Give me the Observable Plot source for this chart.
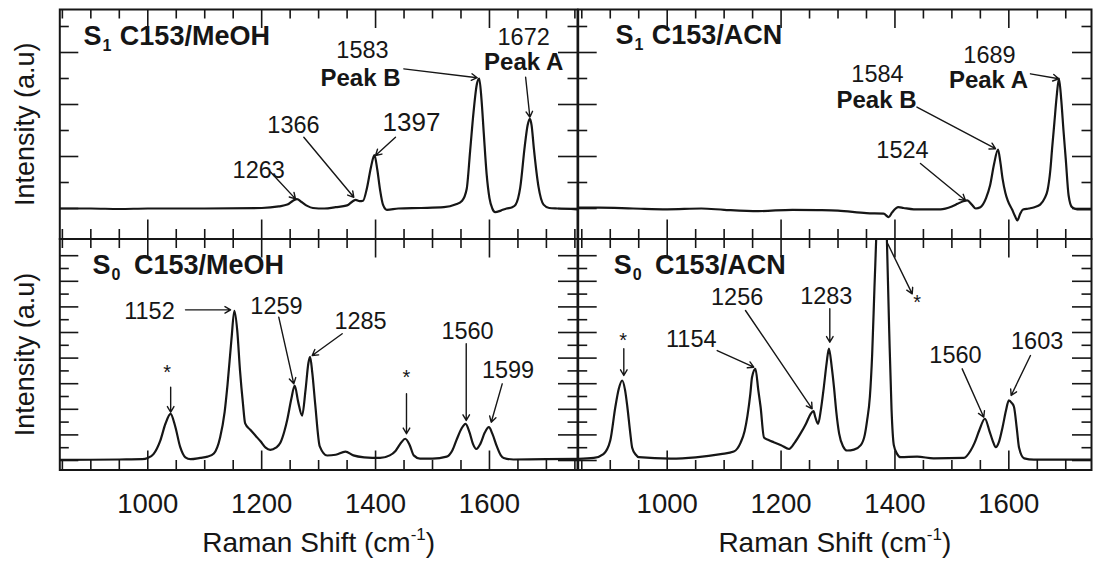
<!DOCTYPE html>
<html><head><meta charset="utf-8">
<script src="https://cdn.jsdelivr.net/npm/d3@7"></script>
<script src="https://cdn.jsdelivr.net/npm/@observablehq/plot@0.6"></script>
<style>
html,body{margin:0;padding:0;background:#fff;}
#chart{position:relative;width:1094px;height:561px;overflow:hidden;background:#fff;}
#chart svg{position:absolute;left:0;top:0;}
</style></head><body><div id="chart"></div>
<script>
const FONT = "'Liberation Sans', Arial, Helvetica, sans-serif";
const INK = "#161616";

// ---- spectra: [Raman shift (cm-1), intensity (a.u.)] ----
const s1MeOH = [[845,0],[900,0],[950,-0.02],[1000,0],[1100,0],[1200,0.02],[1230,0.08],[1245,0.15],[1255,0.3],[1262,0.36],[1270,0.25],[1280,0.1],[1290,0.02],[1310,0],[1330,0.05],[1350,0.12],[1360,0.28],[1365,0.33],[1372,0.28],[1378,0.3],[1385,0.8],[1392,1.6],[1398,2.05],[1403,1.5],[1408,0.7],[1413,0.15],[1420,-0.05],[1440,0],[1480,0.02],[1520,0.05],[1540,0.15],[1552,0.3],[1560,0.75],[1566,2.2],[1572,3.7],[1578,4.8],[1582,5.0],[1586,4.2],[1590,2.9],[1595,1.33],[1600,0.4],[1605,0],[1610,-0.14],[1620,-0.08],[1630,0],[1640,0.05],[1646,0.15],[1654,0.8],[1662,2.4],[1667,3.2],[1671,3.45],[1674,3.2],[1678,2.3],[1686,0.85],[1695,0.15],[1705,0.02],[1720,0],[1754,-0.03]];
const s1ACN = [[844,0.03],[880,0.03],[940,0],[1000,-0.03],[1060,0],[1100,-0.05],[1160,-0.1],[1220,-0.05],[1264,-0.06],[1300,-0.08],[1350,-0.18],[1380,-0.2],[1389,-0.33],[1395,-0.15],[1406,0.05],[1415,0.02],[1433,-0.03],[1480,-0.03],[1500,0.08],[1510,0.18],[1520,0.28],[1527,0.31],[1535,0.15],[1542,0],[1550,0.05],[1560,0.4],[1567,0.88],[1574,1.7],[1581,2.27],[1585,1.8],[1589,1.15],[1594,0.6],[1598,0.31],[1606,-0.05],[1611,-0.3],[1615,-0.46],[1620,-0.2],[1625,-0.04],[1635,0],[1645,0.05],[1655,0.15],[1663,0.4],[1668,0.7],[1673,1.5],[1676,2.3],[1680,3.3],[1684,4.3],[1688,5.0],[1692,4.2],[1696,3.0],[1700,1.9],[1705,0.5],[1711,0.05],[1720,-0.03],[1746,-0.03]];
const s0MeOH = [[846,0.05],[900,0.06],[950,0.08],[990,0.1],[1000,0.2],[1010,0.5],[1022,1.56],[1031,2.87],[1040,3.65],[1048,2.7],[1057,1.04],[1066,0.25],[1075,0.1],[1092,0.2],[1105,0.3],[1116,0.55],[1127,1.8],[1135,3.8],[1140,5.9],[1147,9.5],[1152,11.7],[1157,10.2],[1162,7.0],[1167,4.5],[1171,2.9],[1180,2.4],[1190,1.9],[1198,1.5],[1207,1.0],[1215,0.83],[1225,1.0],[1233,1.4],[1240,2.3],[1245,3.2],[1252,4.8],[1258,5.86],[1264,4.6],[1271,3.5],[1277,5.5],[1282,7.6],[1285,8.1],[1289,6.8],[1294,4.4],[1302,1.1],[1315,0.39],[1330,0.45],[1347,0.7],[1361,0.4],[1380,0.25],[1408,0.2],[1425,0.4],[1435,0.75],[1445,1.4],[1452,1.7],[1460,1.2],[1467,0.4],[1478,0.15],[1500,0.15],[1525,0.3],[1535,0.8],[1543,1.7],[1551,2.5],[1558,2.86],[1565,2.2],[1571,1.3],[1577,0.9],[1584,1.3],[1592,2.2],[1599,2.6],[1605,2.1],[1613,1.1],[1620,0.4],[1625,0.2],[1642,0.08],[1700,0.1],[1754,0.12]];
const s0ACN = [[844,0.13],[871,0.2],[888,0.5],[900,1.56],[909,4.2],[915,5.6],[921,6.25],[926,5.5],[930,4.2],[935,2.2],[938.5,1.0],[945,0.45],[950,0.26],[1006,0.15],[1050,0.25],[1094,0.5],[1117,0.7],[1129,1.4],[1136,2.3],[1141,3.5],[1146,5.2],[1149,6.5],[1155,7.16],[1160,5.5],[1164,4.2],[1170,1.8],[1178,1.6],[1187,1.43],[1200,1.2],[1214,0.9],[1224,1.4],[1234,2.1],[1244,2.9],[1252,3.65],[1257,3.85],[1260,3.4],[1265,2.86],[1270,4.0],[1275,5.7],[1280,7.6],[1284,8.75],[1289,7.3],[1293,5.7],[1297,3.8],[1302,2.1],[1309,1.1],[1316,0.78],[1328,0.85],[1340,1.2],[1347,2.0],[1351,3.1],[1356,5.0],[1360,8.3],[1364,13.5],[1368,18.5],[1372,25],[1377,30],[1382,25],[1386,17],[1390,10],[1394,4],[1398,1.2],[1404,0.5],[1410,0.26],[1439,0.3],[1468,0.17],[1521,0.2],[1533,0.78],[1540,1.4],[1548,2.34],[1558,3.26],[1566,2.3],[1572,1.5],[1577,1.04],[1583,1.5],[1589,2.6],[1595,3.9],[1600,4.7],[1605,4.5],[1609,4.2],[1614,2.5],[1618,1.0],[1627,0.17],[1644,0.07],[1746,0.07]];

// ---- ticks ----
const xTicks = [850,900,950,1000,1050,1100,1150,1200,1250,1300,1350,1400,1450,1500,1550,1600,1650,1700,1750];
const xTickLabels = [1000,1200,1400,1600];
const yTicksTop = [0,1,2,3,4,5,6,7];
const yTicksBottom = [0,1,2,3,4,5,6,7,8,9,10,11,12,13,14,15,16];

// ---- texts ----
const titles = {tl:["S","1"," C153/MeOH"], tr:["S","1"," C153/ACN"], bl:["S","0"," C153/MeOH"], br:["S","0"," C153/ACN"]};
const yTitle = "Intensity (a.u)";
const xTitle = "Raman Shift (cm-1)";

// ---- peak annotations: labels [text, x, y] and leader arrows [x1,y1,x2,y2] ----
const labelsTL = [["1263",1194.8,1.19],["1366",1255.9,2.92],["1397",1463.1,3.0],["1583",1377,5.77],["1672",1660,6.27]];
const boldTL = [["Peak B",1373.5,4.73],["Peak A",1660,5.31]];
const arrowsTL = [[1215.5,1.40,1259.4,0.37],[1274,2.74,1361.8,0.43],[1435,2.74,1399.9,2.04],[1449.6,5.37,1578.5,5.03],[1663.5,5.05,1671,3.51]];

const labelsTR = [["1524",1413.2,1.96],["1584",1369.3,4.85],["1689",1566,5.58]];
const boldTR = [["Peak B",1367.6,3.85],["Peak A",1564.3,4.62]];
const arrowsTR = [[1444.8,1.73,1523.9,0.31],[1438.6,3.90,1576.6,2.30],[1638,5.18,1687.7,4.99]];

const labelsBL = [["1152",1003,11.09],["1259",1226,11.48],["1285",1373.6,10.31],["1560",1561.5,9.53],["1599",1632.6,6.41]];
const starsBL = [[1034.1,6.4],[1454.3,6.0]];
const arrowsBL = [[1040.2,5.73,1040.2,3.77],[1066.2,11.77,1145.5,11.77],[1230,11.2,1256.4,5.99],[1341.4,9.9,1288.7,8.2],[1454.3,5.21,1454.3,2.09],[1559.2,9.12,1559.2,3.13],[1622.4,5.99,1603.1,2.99]];

const labelsBR = [["1154",1042.3,8.83],["1256",1122.9,12.11],["1283",1279.4,12.19],["1560",1506.3,7.58],["1603",1649.8,8.75]];
const starsBR = [[922.7,8.87],[1439.1,11.81]];
const arrowsBR = [[923.8,8.73,923.8,6.64],[1087.8,8.59,1152.1,7.29],[1137.5,11.72,1254.6,4.04],[1285.6,11.85,1285.6,9.24],[1387.4,16.93,1430.3,13.02],[1518.1,7.16,1556,3.38],[1638,8.2,1604.1,5.08]];

const W = 1094, H = 561, MAJ = 19, MIN = 9.5;

function panel(p) {
  const fw = p.right - p.left, fh = p.bottom - p.top;
  const [x0, x1] = p.xDomain, [y0, y1] = p.yDomain;
  const kx = (x1 - x0) / fw, ky = (y1 - y0) / fh; // data units per pixel
  const xt = xTicks.filter(d => d > x0 && d < x1);
  const len = d => (d % 200 === 0 ? MAJ : MIN);
  const leny = d => (d % 2 === 0 ? MAJ : MIN);
  const tk = {stroke: INK, strokeWidth: 1.6};
  const marks = [
    Plot.ruleX(xt, {x: d => d, y1: y1, y2: d => y1 - len(d) * ky, ...tk}),
    Plot.ruleX(xt, {x: d => d, y1: y0, y2: d => y0 + len(d) * ky, ...tk}),
    Plot.ruleY(p.yTicks, {y: d => d, x1: x0, x2: d => x0 + leny(d) * kx, ...tk}),
    Plot.ruleY(p.yTicks, {y: d => d, x1: x1, x2: d => x1 - leny(d) * kx, ...tk}),
    Plot.line(p.data, {x: d => d[0], y: d => d[1], curve: "monotone-x", stroke: INK, strokeWidth: 2.2, clip: true}),
    Plot.frame({stroke: INK, strokeWidth: 2}),
    Plot.arrow(p.arrows, {x1: d => d[0], y1: d => d[1], x2: d => d[2], y2: d => d[3], stroke: INK, strokeWidth: 1.4, headLength: 7}),
    Plot.text(p.labels, {x: d => d[1], y: d => d[2], text: d => d[0], fontSize: d => d[0] === "1397" ? 26 : 23.5, lineAnchor: "bottom", fill: INK}),
    Plot.text([p.title.join("")], {x: p.titlePos[0], y: p.titlePos[1], text: d => d, textAnchor: "start", lineAnchor: "bottom", fontWeight: "bold", fontSize: 27, fill: INK})
  ];
  if (p.bold) marks.push(Plot.text(p.bold, {x: d => d[1], y: d => d[2], text: d => d[0], fontSize: 24, fontWeight: "bold", lineAnchor: "bottom", fill: INK}));
  if (p.stars) marks.push(Plot.text(p.stars, {x: d => d[0], y: d => d[1], text: () => "*", fontSize: 20, lineAnchor: "bottom", fill: INK}));
  if (p.bottomRow) {
    marks.push(Plot.text(xTickLabels, {x: d => d, text: d => String(d), frameAnchor: "bottom", dy: 42.5, lineAnchor: "bottom", fontSize: 27.5, fill: INK}));
    marks.push(Plot.text([xTitle], {text: d => d, frameAnchor: "bottom", textAnchor: "middle", dy: 82, lineAnchor: "bottom", fontSize: 28, fill: INK}));
  }
  if (p.leftCol) {
    marks.push(Plot.text([yTitle], {text: d => d, frameAnchor: "left", textAnchor: "middle", lineAnchor: "middle", dx: -34, rotate: -90, fontSize: 27, fill: INK}));
  }
  const svg = Plot.plot({
    width: W, height: H,
    marginLeft: p.left, marginRight: W - p.right, marginTop: p.top, marginBottom: H - p.bottom,
    x: {domain: p.xDomain, axis: null},
    y: {domain: p.yDomain, axis: null},
    style: {background: "transparent", fontFamily: FONT, overflow: "visible"},
    marks
  });
  // subscripts / superscripts
  const NS = "http://www.w3.org/2000/svg";
  svg.querySelectorAll("text").forEach(t => {
    const s = t.textContent;
    if (s === p.title.join("")) {
      t.textContent = "";
      const a = document.createElementNS(NS, "tspan"); a.textContent = p.title[0];
      const b = document.createElementNS(NS, "tspan"); b.textContent = p.title[1];
      b.setAttribute("font-size", "16"); b.setAttribute("dy", "6"); b.setAttribute("dx", "1");
      const c = document.createElementNS(NS, "tspan"); c.textContent = p.title[2];
      c.setAttribute("dy", "-6"); c.setAttribute("dx", p.title[1] === "0" ? "6" : "1");
      t.append(a, b, c);
    } else if (s === xTitle) {
      t.textContent = "";
      const a = document.createElementNS(NS, "tspan"); a.textContent = "Raman Shift (cm";
      const b = document.createElementNS(NS, "tspan"); b.textContent = "-1";
      b.setAttribute("font-size", "17"); b.setAttribute("dy", "-12");
      const c = document.createElementNS(NS, "tspan"); c.textContent = ")"; c.setAttribute("dy", "12");
      t.append(a, b, c);
    }
  });
  return svg;
}

const topDom = [(208 - 238.5) / 26, (208 - 9) / 26];
const botDom = [(460 - 469.5) / 12.8, (460 - 238.5) / 12.8];
const leftX = [845.5, 1754.6], rightX = [843.7, 1745.2];

const panels = [
  {data: s1MeOH, xDomain: leftX, yDomain: topDom, yTicks: yTicksTop, left: 59.3, right: 577, top: 9, bottom: 238.5,
   title: titles.tl, titlePos: [887, 6.27], labels: labelsTL, bold: boldTL, arrows: arrowsTL, leftCol: true},
  {data: s1ACN, xDomain: rightX, yDomain: topDom, yTicks: yTicksTop, left: 577.7, right: 1091, top: 9, bottom: 238.5,
   title: titles.tr, titlePos: [909, 6.33], labels: labelsTR, bold: boldTR, arrows: arrowsTR},
  {data: s0MeOH, xDomain: leftX, yDomain: botDom, yTicks: yTicksBottom, left: 59.3, right: 577, top: 238.5, bottom: 469.5,
   title: titles.bl, titlePos: [903, 14.6], labels: labelsBL, stars: starsBL, arrows: arrowsBL, leftCol: true, bottomRow: true},
  {data: s0ACN, xDomain: rightX, yDomain: botDom, yTicks: yTicksBottom, left: 577.7, right: 1091, top: 238.5, bottom: 469.5,
   title: titles.br, titlePos: [906, 14.6], labels: labelsBR, stars: starsBR, arrows: arrowsBR, bottomRow: true}
];
const chart = document.getElementById("chart");
panels.forEach(p => chart.appendChild(panel(p)));
</script></body></html>
